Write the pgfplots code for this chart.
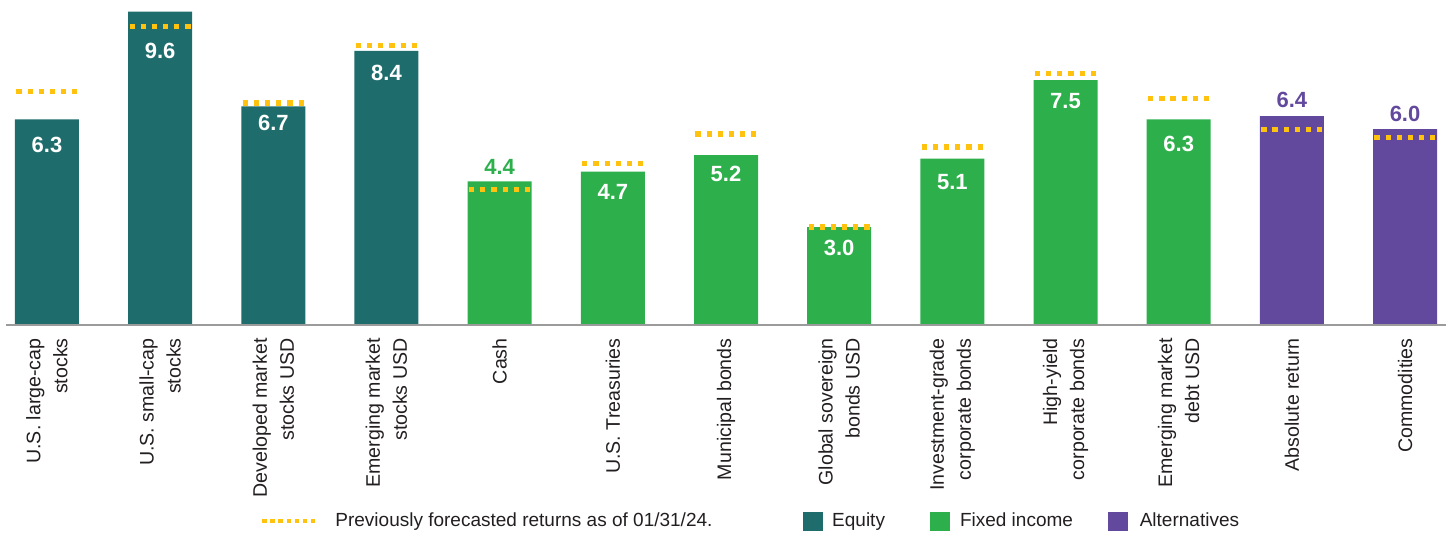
\documentclass[border=0pt]{standalone}
\usepackage{pgfplots}
\pgfplotsset{compat=1.18}
\usepackage{fontspec}
\setmainfont{Liberation Sans}
\definecolor{eqc}{HTML}{1F6C6C}
\definecolor{fic}{HTML}{2DB04B}
\definecolor{altc}{HTML}{62499D}
\definecolor{fy}{HTML}{FFC20E}
\definecolor{axg}{HTML}{9B9B9B}
\definecolor{txt}{HTML}{231F20}

\pgfplotstableread{
x y
-0.27 7.15
0.27 7.15
nan nan
0.73 9.15
1.27 9.15
nan nan
1.73 6.8
2.27 6.8
nan nan
2.73 8.55
3.27 8.55
nan nan
3.73 4.15
4.27 4.15
nan nan
4.73 4.95
5.27 4.95
nan nan
5.73 5.85
6.27 5.85
nan nan
6.73 3.0
7.27 3.0
nan nan
7.73 5.45
8.27 5.45
nan nan
8.73 7.7
9.27 7.7
nan nan
9.73 6.95
10.27 6.95
nan nan
10.73 6.0
11.27 6.0
nan nan
11.73 5.75
12.27 5.75
}\prevtab

\pgfplotstableread{
x y lab
0 5.51 6.3
1 8.39 9.6
2 6.19 6.7
3 7.72 8.4
5 4.07 4.7
6 4.62 5.2
7 2.36 3.0
8 4.38 5.1
9 6.86 7.5
10 5.54 6.3
}\whitelab

\begin{document}
\begin{tikzpicture}
\useasboundingbox (0,0) rectangle (723.5pt,266.5pt);
\begin{axis}[
  at={(3pt,104pt)}, anchor=south west,
  scale only axis, width=720pt, height=162.4pt,
  xmin=-0.362, xmax=12.362, ymin=0, ymax=9.95,
  axis x line*=bottom, axis y line=none,
  x axis line style={axg, line width=1.3pt, -},
  xtick={0,...,12}, major tick length=0pt, ytick=\empty,
  xticklabels={{U.S. large-cap\\stocks},{U.S. small-cap\\stocks},{Developed market\\stocks USD},{Emerging market\\stocks USD},{Cash},{U.S. Treasuries},{Municipal bonds},{Global sovereign\\bonds USD},{Investment-grade\\corporate bonds},{High-yield\\corporate bonds},{Emerging market\\debt USD},{Absolute return},{Commodities}},
  xticklabel style={rotate=90, anchor=east, align=right, font=\fontsize{9.8}{13.5}\selectfont, text=txt, inner sep=0pt},
  xticklabel shift=6.5pt,
  clip=false, axis on top,
  legend columns=4, legend cell align=left,
  legend style={at={(axis description cs:0.1764,-0.6034)}, anchor=west, draw=none, fill=none, inner sep=0pt, outer sep=0pt, column sep=0pt, row sep=0pt, nodes={inner sep=0pt, font=\fontsize{9.5}{11}\selectfont, text=txt}},
]
\addplot[ybar, bar width=32pt, bar shift=0pt, fill=eqc, draw=none, forget plot] coordinates {(0,6.3) (1,9.6) (2,6.7) (3,8.4)};
\addplot[ybar, bar width=32pt, bar shift=0pt, fill=fic, draw=none, forget plot] coordinates {(4,4.4) (5,4.7) (6,5.2) (7,3.0) (8,5.1) (9,7.5) (10,6.3)};
\addplot[ybar, bar width=32pt, bar shift=0pt, fill=altc, draw=none, forget plot] coordinates {(11,6.4) (12,6.0)};
\addplot[fy, line width=2.6pt, dash pattern=on 2.6pt off 2.98pt, unbounded coords=jump, mark=none, forget plot] table[x=x,y=y] {\prevtab};
\addplot[draw=none, mark=none, forget plot, nodes near coords, point meta=explicit symbolic,
  every node near coord/.append style={anchor=center, text=white, font=\fontsize{11}{12}\selectfont\bfseries}] table[x=x,y=y,meta=lab] {\whitelab};
\addplot[draw=none, mark=none, forget plot, nodes near coords, point meta=explicit symbolic,
  every node near coord/.append style={anchor=center, text=fic, font=\fontsize{11}{12}\selectfont\bfseries}] coordinates {(4,4.84) [4.4]};
\addplot[draw=none, mark=none, forget plot, nodes near coords, point meta=explicit symbolic,
  every node near coord/.append style={anchor=center, text=altc, font=\fontsize{11}{12}\selectfont\bfseries}] coordinates {(11,6.89) [6.4] (12,6.46) [6.0]};
\addlegendimage{legend image code/.code={\draw[fy, line width=2.2pt, dash pattern=on 2.2pt off 1.85pt] (0pt,0pt) -- (27.5pt,0pt);}}
\addlegendentry{\makebox[242pt][l]{\hspace{8pt}Previously forecasted returns as of 01/31/24.}}
\addlegendimage{legend image code/.code={\fill[eqc] (0pt,-4.5pt) rectangle (9.5pt,4.5pt);}}
\addlegendentry{\makebox[53.5pt][l]{\hspace{4.5pt}Equity}}
\addlegendimage{legend image code/.code={\fill[fic] (0pt,-4.5pt) rectangle (9.5pt,4.5pt);}}
\addlegendentry{\makebox[79pt][l]{\hspace{5pt}Fixed income}}
\addlegendimage{legend image code/.code={\fill[altc] (0pt,-4.5pt) rectangle (9.5pt,4.5pt);}}
\addlegendentry{\hspace{6pt}Alternatives}
\end{axis}
\end{tikzpicture}
\end{document}
